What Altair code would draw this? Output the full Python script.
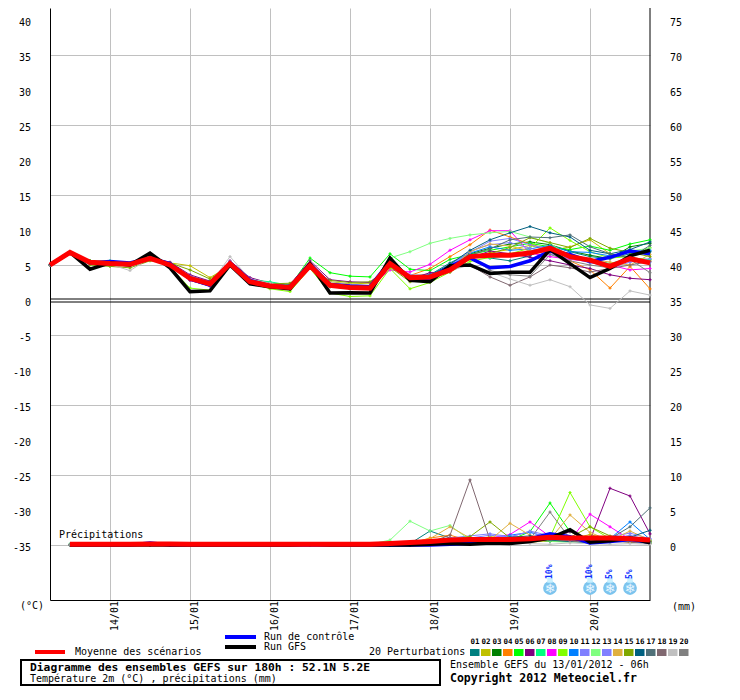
import altair as alt
import pandas as pd

MONO = "DejaVu Sans Mono"

hours = list(range(0, 181, 6))
precip_hours = hours[1:]

date_hours = [18, 42, 66, 90, 114, 138, 162]
date_labels = ["14/01", "15/01", "16/01", "17/01", "18/01", "19/01", "20/01"]
left_ticks = [40, 35, 30, 25, 20, 15, 10, 5, 0, -5, -10, -15, -20, -25, -30, -35]
right_ticks = [75, 70, 65, 60, 55, 50, 45, 40, 35, 30, 25, 20, 15, 10, 5, 0]

pert_names = ["01", "02", "03", "04", "05", "06", "07", "08", "09", "10",
              "11", "12", "13", "14", "15", "16", "17", "18", "19", "20"]
pert_colors = ["#008080", "#C0C000", "#008000", "#FF8000", "#00FF00", "#800080",
               "#00FF80", "#FF00FF", "#80FF00", "#0080FF", "#8080FF", "#80FF80",
               "#8080FF", "#E0B040", "#80A800", "#006080", "#507078", "#806870",
               "#C0C0C0", "#808080"]

# 2m temperature (deg C), every 6 h from 13/01 06h
t_mean = [5.0, 6.8, 5.4, 5.2, 5.1, 5.95, 5.0, 3.1, 2.3, 5.2,
          2.6, 2.0, 1.8, 4.9, 2.1, 1.8, 1.7, 5.2, 3.2, 3.3,
          4.3, 6.2, 6.4, 6.4, 6.7, 7.4, 6.2, 5.7, 4.8, 5.9, 5.3]
t_gfs = [5.0, 6.8, 4.4, 5.3, 5.0, 6.7, 4.6, 1.2, 1.3, 5.0,
         2.3, 1.9, 1.6, 5.2, 1.0, 1.05, 1.0, 6.0, 2.8, 2.6,
         4.9, 5.0, 3.8, 3.95, 3.95, 7.2, 5.2, 3.2, 4.5, 6.3, 7.1]
t_ctrl = [5.0, 6.8, 5.3, 5.5, 5.3, 6.0, 5.2, 3.0, 2.1, 5.3,
          2.8, 2.0, 1.9, 5.1, 2.2, 2.0, 1.9, 5.5, 3.0, 3.1,
          4.8, 6.0, 4.6, 4.8, 5.6, 7.0, 6.5, 5.5, 6.1, 7.0, 6.6]
t01 = [5.0, 6.8, 5.5, 5.4, 5.3, 6.1, 5.2, 3.4, 2.6, 5.5, 2.9, 2.3, 2.0, 5.2, 2.3, 2.1, 2.0, 5.6, 3.5, 3.6, 5.3, 6.7, 6.0, 5.6, 6.3, 7.8, 6.9, 6.2, 5.9, 6.6, 6.9]
t02 = [5.0, 6.7, 5.1, 5.0, 4.9, 5.7, 5.3, 4.9, 3.2, 4.9, 2.8, 2.0, 2.3, 4.7, 2.6, 2.3, 2.4, 4.8, 2.9, 3.0, 4.0, 5.8, 6.8, 7.2, 7.8, 7.0, 7.6, 8.6, 6.6, 6.1, 5.7]
t03 = [5.0, 6.8, 5.6, 5.4, 5.2, 6.2, 5.1, 2.8, 2.0, 5.1, 2.5, 1.8, 1.6, 4.6, 1.9, 1.6, 1.5, 5.0, 3.0, 3.4, 4.6, 6.6, 7.4, 8.0, 8.3, 7.9, 7.0, 6.4, 5.9, 7.6, 8.1]
t04 = [5.0, 6.8, 5.3, 5.1, 5.0, 5.9, 4.9, 2.9, 2.2, 5.3, 2.8, 2.1, 1.5, 4.8, 2.0, 1.7, 1.6, 5.1, 3.5, 4.5, 6.2, 7.9, 10.0, 9.0, 8.0, 7.2, 5.6, 4.3, 1.7, 4.8, 1.6]
t05 = [5.0, 6.8, 5.6, 5.2, 5.0, 6.4, 5.2, 3.0, 2.1, 5.0, 2.7, 2.2, 2.0, 6.0, 3.9, 3.4, 3.3, 6.6, 4.4, 4.2, 5.8, 6.5, 7.1, 7.6, 8.1, 7.6, 7.2, 7.7, 7.1, 8.0, 8.6]
t06 = [5.0, 6.8, 5.5, 5.3, 5.2, 6.0, 5.4, 3.6, 2.7, 5.6, 3.2, 2.4, 2.2, 5.6, 2.9, 2.6, 2.5, 5.0, 3.0, 3.9, 4.0, 6.0, 7.0, 6.6, 6.1, 5.6, 5.0, 4.5, 3.6, 3.1, 2.9]
t07 = [5.0, 6.8, 5.5, 5.6, 5.2, 6.0, 5.0, 3.2, 2.4, 5.2, 2.9, 2.6, 2.1, 5.0, 2.2, 1.9, 1.8, 5.3, 3.1, 3.0, 4.4, 6.1, 6.0, 6.4, 7.0, 7.2, 6.4, 5.8, 5.2, 6.0, 5.8]
t08 = [5.0, 6.8, 5.2, 5.1, 4.8, 5.8, 4.9, 2.8, 2.0, 5.4, 2.6, 2.0, 1.9, 5.3, 2.4, 2.0, 2.0, 4.3, 4.0, 5.1, 7.1, 8.6, 9.9, 9.9, 6.7, 6.2, 5.8, 5.5, 5.0, 4.3, 4.5]
t09 = [5.0, 6.8, 5.3, 4.9, 4.9, 6.6, 4.7, 1.7, 1.4, 4.8, 2.4, 1.6, 1.2, 4.5, 1.0, 0.5, 0.6, 4.5, 1.6, 2.5, 4.0, 5.5, 6.1, 6.6, 7.4, 10.3, 8.5, 6.9, 6.0, 6.2, 7.5]
t10 = [5.0, 6.8, 5.4, 5.3, 5.1, 6.1, 5.1, 3.2, 2.3, 5.0, 2.6, 1.9, 1.8, 4.9, 2.1, 1.9, 1.8, 5.4, 3.2, 3.6, 4.8, 6.7, 7.6, 7.1, 7.3, 7.8, 6.9, 6.8, 6.3, 6.9, 7.1]
t11 = [5.0, 6.8, 5.5, 5.1, 5.0, 5.9, 5.0, 3.4, 2.5, 5.5, 2.8, 2.2, 1.9, 5.1, 2.0, 1.8, 1.7, 5.4, 3.3, 3.5, 4.9, 6.8, 8.4, 8.8, 7.9, 7.2, 6.1, 5.3, 5.0, 5.6, 5.4]
t12 = [5.0, 6.8, 5.3, 5.2, 5.1, 5.8, 5.2, 3.1, 2.3, 5.1, 2.7, 2.1, 1.9, 4.8, 2.3, 2.0, 1.9, 6.0, 6.9, 8.1, 8.8, 9.3, 9.6, 9.8, 9.0, 8.1, 6.2, 5.6, 6.0, 7.0, 7.4]
t13 = [5.0, 6.8, 5.4, 5.2, 5.1, 6.0, 5.0, 3.0, 2.2, 5.2, 2.5, 1.9, 1.7, 4.9, 2.0, 1.7, 1.6, 5.2, 3.6, 3.4, 5.0, 7.0, 7.9, 8.2, 7.4, 6.6, 5.9, 5.4, 4.6, 5.4, 5.9]
t14 = [5.0, 6.8, 5.2, 5.3, 5.2, 5.9, 5.1, 3.0, 2.2, 5.3, 2.7, 1.8, 1.6, 5.1, 2.2, 1.9, 1.9, 5.0, 3.0, 3.2, 4.4, 6.9, 8.0, 7.7, 7.0, 6.8, 6.3, 5.9, 5.4, 5.0, 6.5]
t15 = [5.0, 6.8, 5.0, 4.8, 4.6, 5.6, 5.3, 4.3, 3.0, 5.0, 2.9, 2.3, 2.4, 4.6, 2.8, 2.5, 2.6, 4.7, 2.6, 2.8, 4.4, 6.0, 6.6, 7.5, 8.9, 8.2, 7.5, 8.8, 7.4, 6.8, 6.2]
t16 = [5.0, 6.8, 5.5, 5.3, 5.2, 6.1, 5.1, 3.2, 2.4, 5.3, 2.7, 2.0, 1.8, 5.0, 2.2, 1.9, 1.8, 5.5, 3.4, 3.5, 5.1, 7.1, 8.6, 9.6, 10.5, 9.6, 9.0, 7.1, 6.6, 7.2, 8.3]
t17 = [5.0, 6.8, 5.4, 5.2, 5.2, 6.0, 4.9, 3.0, 2.3, 5.1, 2.6, 2.0, 1.7, 4.8, 2.1, 1.8, 1.7, 5.2, 3.2, 3.3, 4.5, 6.4, 7.3, 8.6, 9.0, 8.9, 9.3, 7.6, 6.6, 6.0, 7.8]
t18 = [5.0, 6.8, 5.3, 5.0, 4.9, 5.9, 4.8, 2.9, 2.1, 5.0, 2.4, 1.8, 1.6, 4.7, 1.9, 1.6, 1.5, 4.9, 3.0, 3.5, 4.5, 5.0, 3.3, 2.1, 3.3, 5.0, 4.6, 4.0, 4.5, 5.0, 5.5]
t19 = [5.0, 6.8, 5.4, 5.1, 4.2, 6.0, 5.0, 3.2, 2.3, 6.2, 3.0, 2.4, 1.8, 5.4, 2.5, 2.2, 2.1, 5.7, 3.5, 3.0, 4.2, 5.0, 4.0, 3.0, 2.1, 2.9, 1.9, -0.7, -1.2, 1.3, 0.7]
t20 = [5.0, 6.8, 5.3, 5.2, 5.0, 6.0, 5.0, 3.0, 2.2, 5.4, 2.7, 2.0, 1.8, 5.3, 2.2, 1.9, 1.8, 5.1, 3.1, 3.1, 4.5, 6.3, 4.2, 3.6, 3.4, 6.5, 5.6, 5.0, 4.6, 5.8, 3.9]

# 6-hourly precipitation (mm), from 13/01 12h
p_mean = [0.1, 0.1, 0.1, 0.1, 0.15, 0.15, 0.1, 0.1, 0.1, 0.1, 0.1, 0.1, 0.1, 0.1, 0.1, 0.1, 0.2, 0.35, 0.5, 0.7, 0.8, 0.8, 0.8, 0.9, 1.1, 1.0, 1.0, 1.0, 0.9, 0.7]
p_gfs = [0, 0, 0, 0, 0, 0, 0, 0, 0, 0, 0, 0, 0.1, 0, 0, 0, 0, 0, 0.1, 0.2, 0.1, 0.3, 0.2, 0.5, 1.0, 2.2, 0.4, 0.6, 1.0, 0.3]
p_ctrl = [0, 0, 0, 0, 0.3, 0, 0, 0, 0, 0, 0, 0, 0, 0, 0, 0, 0, 0, 0, 0.1, 0.2, 0.4, 0.6, 0.9, 1.6, 1.2, 0.3, 0.5, 0.8, 0.4]
r01 = [0.1, 0, 0, 0, 0, 0, 0, 0, 0, 0, 0, 0, 0, 0, 0, 0, 0, 0.2, 2.0, 1.0, 0.5, 0.8, 1.2, 0.6, 0.8, 0.5, 0.3, 1.0, 0.6, 0.4]
r02 = [0, 0, 0, 0, 0, 0, 0, 0, 0, 0, 0, 0, 0, 0, 0, 0, 0, 0.3, 0.5, 0.8, 0.6, 1.2, 0.9, 0.4, 0.6, 0.8, 1.5, 0.7, 0.4, 0.3]
r03 = [0, 0, 0, 0, 0, 0, 0, 0, 0, 0, 0, 0, 0, 0, 0, 0, 0.1, 0.3, 0.5, 0.4, 0.6, 0.8, 1.2, 0.9, 0.5, 0.6, 0.7, 0.8, 0.5, 0.6]
r04 = [0, 0, 0, 0, 0, 0, 0, 0, 0, 0, 0, 0, 0, 0, 0, 0, 0, 0.2, 1.0, 1.4, 0.6, 0.3, 0.5, 0.8, 1.1, 0.9, 0.6, 1.0, 0.4, 0.5]
r05 = [0.1, 0, 0, 0, 0, 0, 0, 0, 0, 0, 0, 0, 0, 0, 0, 0, 0, 0.3, 0.6, 0.9, 0.5, 0.8, 0.7, 1.9, 6.0, 1.9, 0.5, 0.8, 1.0, 0.6]
r06 = [0, 0, 0, 0, 0, 0, 0, 0, 0, 0, 0, 0, 0, 0, 0, 0, 0, 0.1, 0.5, 0.8, 1.0, 0.6, 0.8, 0.5, 0.9, 1.9, 0.7, 8.1, 7.0, 1.6]
r07 = [0, 0, 0, 0, 0, 0, 0, 0, 0, 0, 0, 0, 0, 0, 0, 0, 0, 0.1, 0.2, 0.6, 0.9, 0.7, 0.4, 0.6, 1.0, 0.8, 0.5, 0.4, 0.9, 0.3]
r08 = [0, 0, 0, 0, 0, 0, 0, 0, 0, 0, 0, 0, 0, 0, 0, 0, 0, 0, 0.3, 0.6, 0.8, 1.0, 1.5, 3.3, 1.2, 0.6, 4.4, 2.6, 0.8, 0.5]
r09 = [0, 0, 0, 0, 0, 0, 0, 0, 0, 0, 0, 0, 0, 0, 0, 0, 0, 0.2, 0.4, 0.6, 0.5, 0.9, 1.0, 0.8, 1.1, 7.5, 2.6, 0.9, 1.2, 0.6]
r10 = [0, 0, 0, 0, 0, 0, 0, 0, 0, 0, 0, 0, 0, 0, 0, 0, 0, 0, 0.2, 0.5, 0.7, 0.6, 1.4, 1.8, 1.0, 0.8, 0.6, 0.9, 3.3, 0.8]
r11 = [0, 0, 0, 0, 0, 0, 0, 0, 0, 0, 0, 0, 0, 0, 0, 0, 0, 0, 0.4, 1.0, 1.3, 1.6, 1.2, 1.9, 0.9, 0.6, 0.4, 1.2, 1.7, 0.9]
r12 = [0, 0, 0, 0, 0, 0, 0, 0, 0, 0, 0, 0, 0, 0, 0, 0.1, 0.7, 3.4, 2.0, 2.8, 0.7, 0.3, 0.6, 1.0, 0.5, 0.4, 0.6, 0.8, 0.5, 0.3]
r13 = [0, 0, 0, 0, 0, 0, 0, 0, 0, 0, 0, 0, 0, 0, 0, 0, 0, 0.1, 0.3, 0.6, 1.0, 1.4, 1.1, 2.0, 1.3, 0.7, 0.5, 0.8, 1.4, 0.6]
r14 = [0, 0, 0, 0, 0, 0, 0, 0, 0, 0, 0, 0, 0, 0, 0, 0, 0, 0.3, 0.9, 2.6, 1.0, 0.7, 3.1, 1.4, 0.8, 4.3, 1.8, 0.6, 2.0, 0.7]
r15 = [0, 0, 0, 0, 0, 0, 0, 0, 0, 0, 0, 0, 0, 0, 0, 0, 0, 0.1, 0.4, 0.8, 1.2, 3.3, 1.0, 0.7, 0.9, 1.1, 2.6, 1.3, 0.9, 0.5]
r16 = [0, 0, 0, 0, 0, 0, 0, 0, 0, 0, 0, 0, 0, 0, 0, 0, 0, 0, 0.2, 0.4, 0.6, 0.9, 1.1, 1.3, 0.7, 0.5, 0.9, 0.6, 1.1, 2.1]
r17 = [0, 0, 0, 0, 0, 0, 0, 0, 0, 0, 0, 0, 0, 0, 0, 0, 0, 0, 0.2, 0.5, 0.4, 0.7, 0.9, 0.6, 1.4, 1.0, 0.6, 0.9, 2.6, 5.3]
r18 = [0, 0, 0, 0, 0, 0, 0, 0, 0, 0, 0, 0, 0, 0, 0, 0, 0, 0.2, 0.4, 1.4, 9.3, 0.7, 0.2, 0.4, 0.8, 0.6, 0.3, 0.5, 0.4, 0.2]
r19 = [0, 0, 0, 0, 0, 0, 0, 0, 0, 0, 0, 0, 0, 0, 0, 0, 0, 0, 0, 0.1, 0.2, 0.1, 0.3, 0.2, 0.1, 0.3, 0.2, 0.1, 0.2, 0.1]
r20 = [0, 0, 0, 0, 0, 0, 0, 0, 0, 0, 0, 0, 0, 0, 0, 0, 0, 0, 0.1, 0.3, 0.5, 0.4, 0.6, 0.8, 4.7, 0.9, 0.7, 0.5, 0.8, 0.4]

snow_hours = [150, 162, 168, 174]
snow_pct = ["10%", "10%", "5%", "5%"]

PRECIP_BASE = -35  # precipitation 0 mm sits on the -35 line (right axis = left + 35)

pert_t = [t01, t02, t03, t04, t05, t06, t07, t08, t09, t10,
          t11, t12, t13, t14, t15, t16, t17, t18, t19, t20]
pert_p = [r01, r02, r03, r04, r05, r06, r07, r08, r09, r10,
          r11, r12, r13, r14, r15, r16, r17, r18, r19, r20]


def series_rows(name, temps, precs):
    rows = []
    for h, v in zip(hours, temps):
        rows.append({"h": h, "v": v, "s": name, "g": name + "_t"})
    for h, v in zip(precip_hours, precs):
        rows.append({"h": h, "v": v + PRECIP_BASE, "s": name, "g": name + "_p"})
    return rows


pert_rows = []
for k, nm in enumerate(pert_names):
    pert_rows += series_rows(nm, pert_t[k], pert_p[k])
df_pert = pd.DataFrame(pert_rows)
df_ctrl = pd.DataFrame(series_rows("ctrl", t_ctrl, p_ctrl))
df_gfs = pd.DataFrame(series_rows("gfs", t_gfs, p_gfs))
df_mean = pd.DataFrame(series_rows("mean", t_mean, p_mean))

xs = alt.Scale(domain=[0, 180], nice=False, zero=False)
ys = alt.Scale(domain=[-300 / 7, 292 / 7], nice=False, zero=False)
xaxis = alt.Axis(values=date_hours, grid=True, gridColor="#C0C0C0", gridWidth=1,
                 labels=False, ticks=False, domain=True, domainColor="black",
                 domainWidth=1, title=None)
yaxis = alt.Axis(values=left_ticks, grid=True, gridColor="#C0C0C0", gridWidth=1,
                 labels=False, ticks=False, domain=True, domainColor="black",
                 domainWidth=1, title=None)
X = alt.X("h:Q", scale=xs, axis=xaxis)
Y = alt.Y("v:Q", scale=ys, axis=yaxis)
pcolor = alt.Color("s:N", scale=alt.Scale(domain=pert_names, range=pert_colors), legend=None)

one = pd.DataFrame({"a": [0]})


def px(page_x):
    return page_x - 50


def py(page_y):
    return page_y - 8


def to_h(page_x):
    return (page_x - 50) * 180 / 600


layers = []

# double line at 0
layers.append(alt.Chart(one).mark_rule(color="black", strokeWidth=1, yOffset=-1).encode(y=alt.datum(0)))
layers.append(alt.Chart(one).mark_rule(color="black", strokeWidth=1, yOffset=2).encode(y=alt.datum(0)))
layers.append(alt.Chart(one).mark_rule(color="black", strokeWidth=1).encode(x=alt.datum(180)))

# perturbations
layers.append(alt.Chart(df_pert).mark_line(strokeWidth=1).encode(x=X, y=Y, color=pcolor, detail="g:N"))
layers.append(alt.Chart(df_pert).mark_point(shape="cross", filled=True, size=9, opacity=1).encode(
    x=X, y=Y, color=pcolor))

layers.append(alt.Chart(df_ctrl).mark_line(strokeWidth=3.5, color="#0000FF").encode(x=X, y=Y, detail="g:N"))
layers.append(alt.Chart(df_gfs).mark_line(strokeWidth=3.5, color="#000000").encode(x=X, y=Y, detail="g:N"))
layers.append(alt.Chart(df_mean).mark_line(strokeWidth=5, color="#FF0000").encode(x=X, y=Y, detail="g:N"))

# axis labels
df_left = pd.DataFrame({"v": left_ticks, "lab": [str(t) for t in left_ticks]})
df_right = pd.DataFrame({"v": left_ticks, "lab": [str(t) for t in right_ticks]})
layers.append(alt.Chart(df_left).mark_text(align="right", baseline="middle", font=MONO, fontSize=10,
                                           dy=3, color="black").encode(
    x=alt.value(px(31)), y=Y, text="lab:N"))
layers.append(alt.Chart(df_right).mark_text(align="left", baseline="middle", font=MONO, fontSize=10,
                                            dy=3, color="black").encode(
    x=alt.value(px(670)), y=Y, text="lab:N"))
df_dates = pd.DataFrame({"h": date_hours, "lab": date_labels})
layers.append(alt.Chart(df_dates).mark_text(align="left", baseline="middle", font=MONO,
                                            fontSize=10, dy=5, color="black").encode(
    x=X, y=alt.value(py(631)), text="lab:N", angle=alt.value(270)))

# snow probability icons
df_snow = pd.DataFrame({"h": snow_hours, "lab": snow_pct})
layers.append(alt.Chart(df_snow).mark_point(shape="circle", filled=True, size=190, opacity=1,
                                            color="#7CC4EE").encode(x=X, y=alt.value(py(588))))
layers.append(alt.Chart(df_snow).mark_text(text="\u2744", font="DejaVu Sans", fontSize=13,
                                           baseline="middle", color="#E8F6FF").encode(
    x=X, y=alt.value(py(589))))
layers.append(alt.Chart(df_snow).mark_point(shape="square", filled=True, size=30, opacity=1,
                                            color="#C8F0FF").encode(x=X, y=alt.value(py(580))))
layers.append(alt.Chart(df_snow).mark_text(align="left", baseline="middle", font=MONO,
                                           fontSize=8, fontWeight="bold", color="#1030FF").encode(
    x=X, y=alt.value(py(579)), text="lab:N", angle=alt.value(270)))

# static texts


def label(txt, x, y, size=10, bold=False, align="left"):
    kw = dict(text=txt, align=align, baseline="middle", font=MONO, fontSize=size, color="black")
    if bold:
        kw["fontWeight"] = "bold"
    return alt.Chart(one).mark_text(**kw).encode(x=alt.value(px(x)), y=alt.value(py(y)))


layers.append(label("Précipitations", 59, 535))
layers.append(label("(°C)", 20, 606))
layers.append(label("(mm)", 672, 607))

# legend
for c, x1, x2, y in [("#FF0000", 35, 65, 652), ("#0000FF", 225, 256, 637), ("#000000", 225, 256, 647)]:
    layers.append(alt.Chart(one).mark_rule(color=c, strokeWidth=4).encode(
        x=alt.value(px(x1)), x2=alt.value(px(x2)), y=alt.value(py(y))))
layers.append(label("Moyenne des scénarios", 75, 652))
layers.append(label("Run de contrôle", 264, 637))
layers.append(label("Run GFS", 264, 647))
layers.append(label("20 Perturbations", 369, 652))

df_boxes = pd.DataFrame({
    "s": pert_names,
    "h": [to_h(470 + 11 * k) for k in range(20)],
    "h2": [to_h(479.5 + 11 * k) for k in range(20)],
    "hc": [to_h(475 + 11 * k) for k in range(20)],
})
layers.append(alt.Chart(df_boxes).mark_rect(opacity=1).encode(
    x=alt.X("h:Q", scale=xs, axis=xaxis), x2="h2:Q",
    y=alt.value(py(649)), y2=alt.value(py(656)), color=pcolor))
layers.append(alt.Chart(df_boxes).mark_text(font=MONO, fontSize=7.5, fontWeight="bold",
                                            baseline="middle", color="black").encode(
    x=alt.X("hc:Q", scale=xs, axis=xaxis), y=alt.value(py(642)), text="s:N"))

# title box
layers.append(alt.Chart(one).mark_rect(fill="white", stroke="black", strokeWidth=2).encode(
    x=alt.value(px(21)), x2=alt.value(px(440)), y=alt.value(py(660)), y2=alt.value(py(685))))
layers.append(label("Diagramme des ensembles GEFS sur 180h : 52.1N 5.2E", 30, 668, size=11.3, bold=True))
layers.append(label("Température 2m (°C) , précipitations (mm)", 30, 679))
layers.append(label("Ensemble GEFS du 13/01/2012 - 06h", 450, 665))
layers.append(label("Copyright 2012 Meteociel.fr", 450, 679, size=11.5, bold=True))

chart = alt.layer(*layers).properties(
    width=600, height=592,
    autosize=alt.AutoSizeParams(type="none"),
    padding={"left": 42, "top": 0, "right": 78, "bottom": 86},
    background="white",
).configure_view(stroke=None)

chart.save("out.html", embed_options={"renderer": "svg", "actions": False})
